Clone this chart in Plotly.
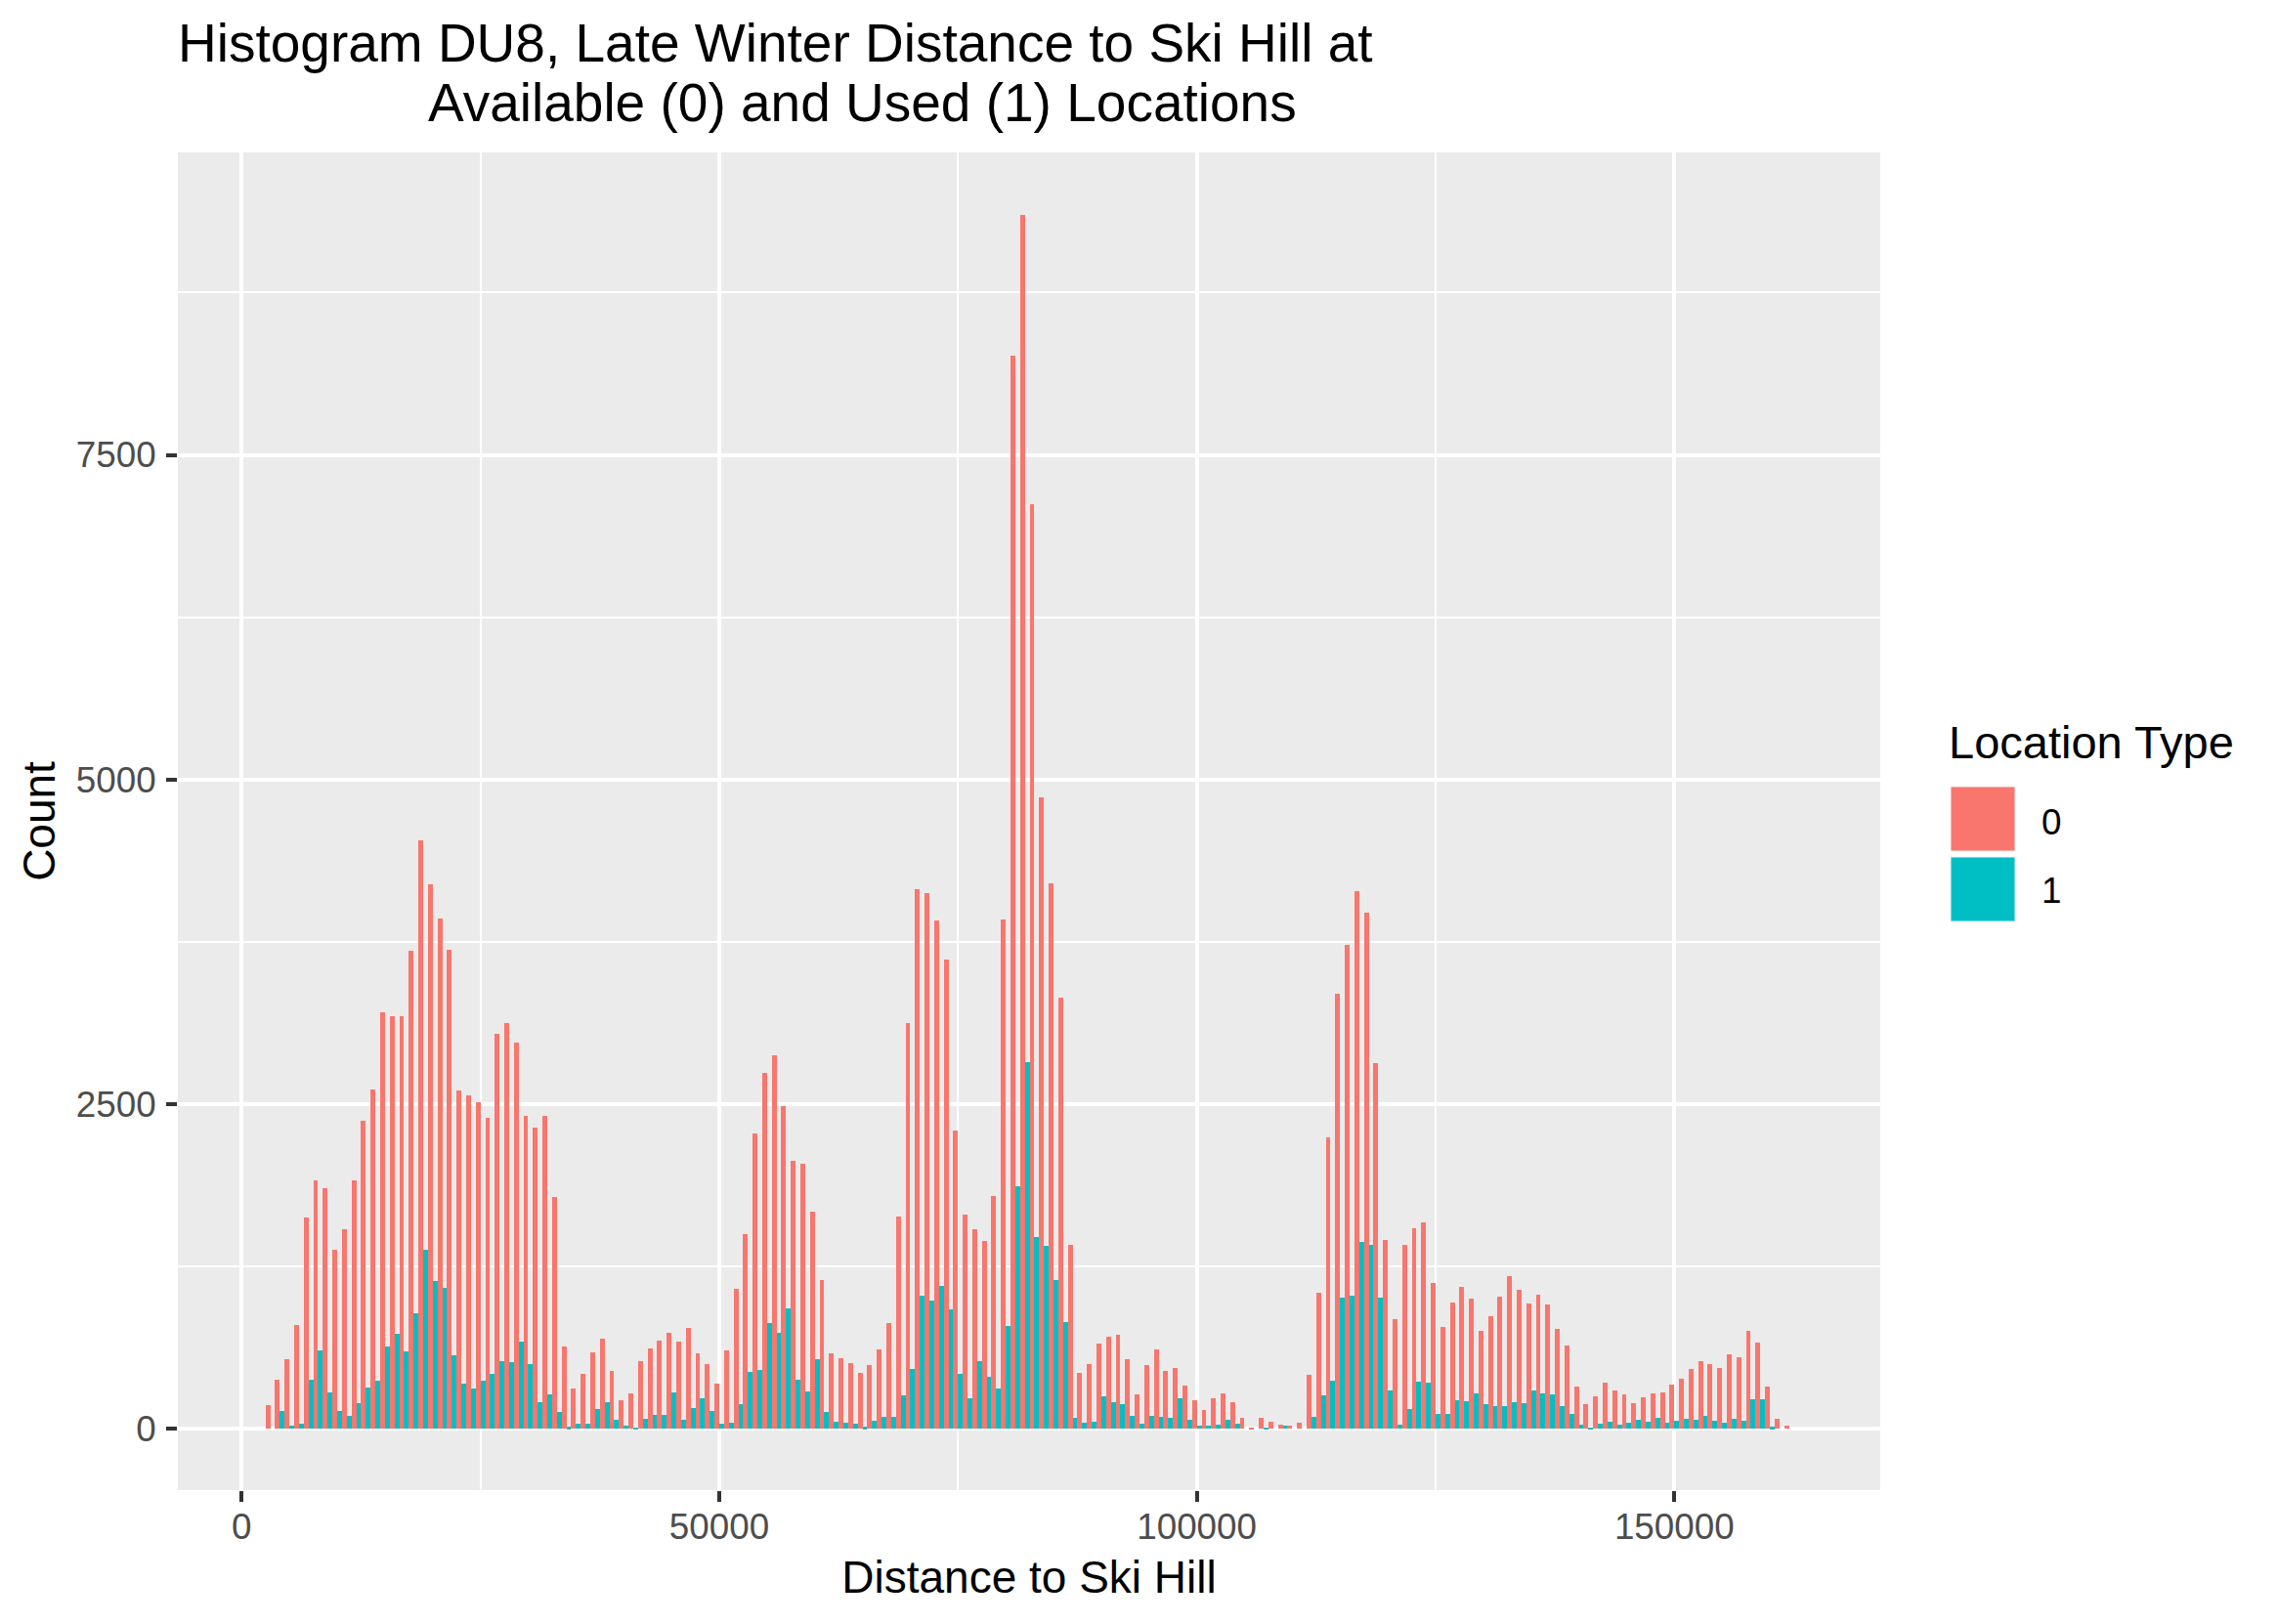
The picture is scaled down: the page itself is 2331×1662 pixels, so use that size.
import plotly.graph_objects as go

BIN_CENTERS = list(range(3000, 163000, 1000))

AVAILABLE_0 = [
    180, 375, 532, 796, 1625, 1909, 1851, 1377,
    1534, 1909, 2370, 2611, 3205, 3176, 3176, 3679, 4530, 4191,
    3927, 3688, 2601, 2566, 2513, 2393, 3039, 3124, 2970, 2409,
    2317, 2409, 1782, 630, 307, 421, 584, 692, 444, 215,
    271, 519, 616, 677, 737, 669, 774, 579, 496, 346,
    601, 1075, 1496, 2270, 2737, 2872, 2481, 2060, 2037, 1669,
    1143, 579, 541, 504, 429, 489, 609, 812, 1631, 3127,
    4157, 4127, 3917, 3616, 2293, 1646, 1534, 1443, 1789, 3925,
    8267, 9349, 7121, 4861, 4197, 3323, 1418, 429, 496, 654,
    707, 722, 534, 263, 489, 609, 444, 466, 331, 218,
    143, 233, 271, 203, 83, 8, 83, 53, 30, 23,
    45, 414, 1048, 2244, 3351, 3726, 4140, 3973, 2815, 1452,
    842, 1417, 1545, 1589, 1122, 783, 970, 1092, 1000, 753,
    866, 1018, 1176, 1068, 964, 1033, 955, 768, 640, 324,
    187, 250, 354, 295, 265, 196, 241, 271, 280, 339,
    384, 458, 521, 497, 467, 571, 551, 753, 664, 324,
    75, 23,
]

USED_1 = [
    0, 134, 23, 36, 375, 600, 277, 134,
    98, 196, 313, 369, 630, 728, 594, 888, 1377, 1136,
    1084, 565, 346, 307, 369, 421, 519, 509, 669, 496,
    202, 261, 127, 13, 36, 36, 150, 202, 65, 23,
    7, 75, 105, 105, 278, 68, 158, 233, 135, 38,
    45, 188, 436, 451, 812, 737, 925, 376, 286, 534,
    128, 53, 45, 38, 15, 60, 90, 90, 256, 459,
    1022, 985, 1098, 917, 421, 236, 522, 402, 306, 787,
    1870, 2825, 1478, 1409, 1141, 818, 85, 45, 53, 248,
    203, 188, 98, 38, 98, 90, 83, 233, 68, 23,
    23, 30, 68, 38, 0, 0, 8, 0, 23, 0,
    0, 90, 256, 369, 1008, 1023, 1436, 1415, 1008, 294,
    30, 151, 360, 353, 113, 113, 217, 210, 271, 187,
    173, 173, 202, 196, 295, 271, 265, 173, 113, 30,
    9, 39, 54, 30, 45, 68, 54, 83, 45, 60,
    74, 68, 98, 60, 45, 74, 60, 226, 226, 15,
    0, 0,
]

X_TICKS = [0, 50000, 100000, 150000]
X_LABELS = ["0", "50000", "100000", "150000"]
X_MINOR = [25000, 75000, 125000]
Y_TICKS = [0, 2500, 5000, 7500]
Y_LABELS = ["0", "2500", "5000", "7500"]
Y_MINOR = [1250, 3750, 6250, 8750]

TITLE_1 = "Histogram DU8, Late Winter Distance to Ski Hill at"
TITLE_2 = "Available (0) and Used (1) Locations"
X_TITLE = "Distance to Ski Hill"
Y_TITLE = "Count"
LEGEND_TITLE = "Location Type"
LEGEND_LABELS = ["0", "1"]

RED = "#F8766D"
TEAL = "#00BFC4"
FONT = "Liberation Sans"
W, H = 2331, 1662
L, R, T, B = 182, 1924, 156, 1525


def px(x):
    return (x - L) / (R - L)


def py(y):
    return (B - y) / (B - T)


fig = go.Figure()
fig.add_bar(x=BIN_CENTERS, y=AVAILABLE_0, name="0", marker=dict(color=RED, line=dict(width=0)))
fig.add_bar(x=BIN_CENTERS, y=USED_1, name="1", marker=dict(color=TEAL, line=dict(width=0)))


def text(s, x, y, size, color="black"):
    return dict(text=s, x=px(x), y=py(y), xref="paper", yref="paper", showarrow=False,
                xanchor="left", yanchor="middle", align="left",
                font=dict(family=FONT, size=size, color=color), borderpad=0, borderwidth=0)


def key(y0, y1, color):
    return dict(type="rect", xref="paper", yref="paper", x0=px(1996), x1=px(2062),
                y0=py(y1), y1=py(y0), fillcolor=color, line=dict(width=1, color="#F2F2F2"), layer="above")


fig.update_layout(
    width=W, height=H, autosize=False,
    margin=dict(l=L, r=W - R, t=T, b=H - B, pad=0),
    paper_bgcolor="white", plot_bgcolor="#EBEBEB",
    barmode="group", bargap=0, bargroupgap=0, showlegend=False,
    font=dict(family=FONT, color="black"),
    title=dict(text=TITLE_1, x=182 / W, xref="container", xanchor="left",
               y=1 - 24.5 / H, yref="container", yanchor="top",
               font=dict(family=FONT, size=55, color="black"), pad=dict(l=0, r=0, t=0, b=0)),
    xaxis=dict(range=[-6680, 171560], tickmode="array", tickvals=X_TICKS, ticktext=X_LABELS,
               showgrid=True, gridcolor="white", gridwidth=4, zeroline=False, showline=False,
               ticks="outside", ticklen=11, tickwidth=4, tickcolor="#333333",
               ticklabelstandoff=-6,
               tickfont=dict(family=FONT, size=36.8, color="#4D4D4D"),
               minor=dict(tickmode="array", tickvals=X_MINOR, showgrid=True, gridcolor="white", gridwidth=2, ticks=""),
               title=dict(text=X_TITLE, font=dict(family=FONT, size=46, color="black"), standoff=15)),
    yaxis=dict(range=[-474, 9830], tickmode="array", tickvals=Y_TICKS, ticktext=Y_LABELS,
               showgrid=True, gridcolor="white", gridwidth=4, zeroline=False, showline=False,
               ticks="outside", ticklen=11, tickwidth=4, tickcolor="#333333",
               ticklabelstandoff=3,
               tickfont=dict(family=FONT, size=36.8, color="#4D4D4D"),
               minor=dict(tickmode="array", tickvals=Y_MINOR, showgrid=True, gridcolor="white", gridwidth=2, ticks=""),
               title=dict(text=Y_TITLE, font=dict(family=FONT, size=46, color="black"), standoff=6)),
    annotations=[
        text(TITLE_2, 438, 105, 55),
        text(LEGEND_TITLE, 1993.5, 759, 47),
        text(LEGEND_LABELS[0], 2088.5, 841, 36.8),
        text(LEGEND_LABELS[1], 2088.5, 911.5, 36.8),
    ],
    shapes=[key(805, 871, RED), key(877, 943, TEAL)],
)

fig.write_html("out.html", config=dict(displayModeBar=False),
               post_script="document.body.style.margin='0';document.documentElement.style.overflow='hidden';")
